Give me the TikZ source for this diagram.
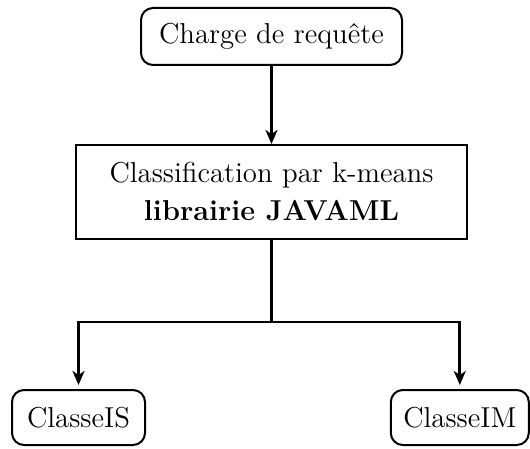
\documentclass[tikz,border=0pt]{standalone}
\usetikzlibrary{positioning,arrows.meta}
\tikzset{
    arrow/.style={-{Stealth[length=7pt,width=6pt,inset=2pt]}, line width=1.4pt},
    roundbox/.style={draw, line width=1pt, rounded corners=6pt, font=\Large, inner sep=0pt},
    squarebox/.style={draw, line width=1pt, font=\Large, align=center, inner sep=0pt}
}
\begin{document}
\begin{tikzpicture}
    \useasboundingbox (0,0) rectangle (265pt,-224.5pt);

    % noeuds
    \node[roundbox, minimum width=130.5pt, minimum height=28.5pt] (charge) at (135.75pt,-18.25pt) {Charge de requête};
    \node[squarebox, minimum width=195.5pt, minimum height=47pt, below=39pt of charge] (kmeans)
        {Classification par k-means\\[1pt] \textbf{librairie JAVAML}};
    \node[roundbox, minimum width=66.5pt, minimum height=27.5pt] (classeis) at (39.25pt,-208.75pt) {ClasseIS};
    \node[roundbox, minimum width=69pt, minimum height=27.5pt] (classeim) at (229.9pt,-208.75pt) {ClasseIM};

    % connecteurs
    \coordinate[below=41pt of kmeans.south] (split);
    \draw[arrow] (charge) -- (kmeans);
    \draw[line width=1.4pt] (kmeans.south) -- (split);
    \draw[arrow] (split) -| ([yshift=2pt]classeis.north);
    \draw[arrow] (split) -| ([yshift=2pt]classeim.north);
\end{tikzpicture}
\end{document}
